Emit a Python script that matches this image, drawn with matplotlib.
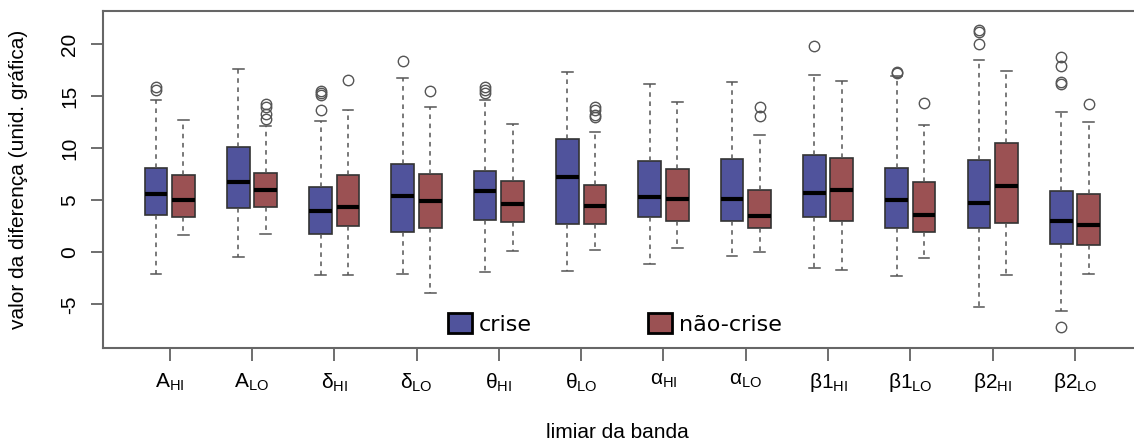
import matplotlib
matplotlib.use("Agg")
import matplotlib.pyplot as plt
from matplotlib.patches import Patch

labels = [r"$\mathregular{A_{HI}}$", r"$\mathregular{A_{LO}}$",
          r"$\mathregular{\delta_{HI}}$", r"$\mathregular{\delta_{LO}}$",
          r"$\mathregular{\theta_{HI}}$", r"$\mathregular{\theta_{LO}}$",
          r"$\mathregular{\alpha_{HI}}$", r"$\mathregular{\alpha_{LO}}$",
          r"$\mathregular{\beta1_{HI}}$", r"$\mathregular{\beta1_{LO}}$",
          r"$\mathregular{\beta2_{HI}}$", r"$\mathregular{\beta2_{LO}}$"]

# crise (blue)
crise_lo = [-2.1, -0.45, -2.2, -2.1, -1.9, -1.8, -1.1, -0.4, -1.5, -2.3, -5.3, -5.6]
crise_q1 = [3.6, 4.3, 1.8, 2.0, 3.1, 2.7, 3.4, 3.0, 3.4, 2.3, 2.3, 0.8]
crise_med = [5.6, 6.8, 4.0, 5.4, 5.9, 7.2, 5.3, 5.1, 5.7, 5.0, 4.7, 3.0]
crise_q3 = [8.1, 10.1, 6.25, 8.5, 7.8, 10.9, 8.75, 9.0, 9.4, 8.1, 8.9, 5.9]
crise_hi = [14.65, 17.65, 12.6, 16.8, 14.65, 17.35, 16.15, 16.4, 17.05, 16.95, 18.5, 13.45]
crise_out = [[15.6, 15.9], [], [13.7, 15.1, 15.3, 15.5], [18.4],
             [15.3, 15.6, 15.85], [], [], [], [19.85], [17.2, 17.35],
             [20.0, 21.15, 21.4], [-7.2, 16.2, 16.4, 17.9, 18.8]]

# não-crise (red)
nao_lo = [1.7, 1.8, -2.2, -3.9, 0.13, 0.25, 0.4, 0.0, -1.7, -0.5, -2.15, -2.1]
nao_q1 = [3.35, 4.4, 2.55, 2.3, 2.9, 2.75, 3.05, 2.3, 3.0, 2.0, 2.8, 0.7]
nao_med = [5.0, 5.95, 4.35, 4.9, 4.6, 4.5, 5.1, 3.5, 6.0, 3.6, 6.4, 2.65]
nao_q3 = [7.45, 7.65, 7.45, 7.55, 6.9, 6.5, 8.0, 6.0, 9.1, 6.75, 10.55, 5.65]
nao_hi = [12.7, 12.1, 13.7, 13.95, 12.35, 11.6, 14.45, 11.25, 16.5, 12.25, 17.45, 12.55]
nao_out = [[], [12.85, 13.3, 13.95, 14.25], [16.6], [15.5], [],
           [13.0, 13.2, 13.7, 14.0], [], [13.1, 14.0], [], [14.4], [], [14.25]]

blue = "#50539c"
red = "#9b5153"


def stats(lo, q1, med, q3, hi, out):
    return [dict(whislo=a, q1=b, med=c, q3=d, whishi=e, fliers=f)
            for a, b, c, d, e, f in zip(lo, q1, med, q3, hi, out)]


plt.rcParams["font.family"] = ["Liberation Sans", "DejaVu Sans"]
plt.rcParams["mathtext.fontset"] = "custom"
plt.rcParams["mathtext.rm"] = "Liberation Sans"

fig = plt.figure(figsize=(11.34, 4.44), dpi=100)
ax = fig.add_axes([103 / 1134, 1 - 347.7 / 444, 1040 / 1134, 336.7 / 444])

pos = list(range(len(labels)))
common = dict(widths=0.276, patch_artist=True, manage_ticks=False,
              capwidths=0.13,
              boxprops=dict(edgecolor="#333333", linewidth=1.2),
              medianprops=dict(color="black", linewidth=3),
              whiskerprops=dict(color="#555555", linewidth=1.1, linestyle=(0, (3, 3))),
              capprops=dict(color="#555555", linewidth=1.1),
              flierprops=dict(marker="o", markerfacecolor="none",
                              markeredgecolor="#555555", markersize=7.5,
                              markeredgewidth=1.0))

b1 = ax.bxp(stats(crise_lo, crise_q1, crise_med, crise_q3, crise_hi, crise_out),
            positions=[p - 0.167 for p in pos], **common)
b2 = ax.bxp(stats(nao_lo, nao_q1, nao_med, nao_q3, nao_hi, nao_out),
            positions=[p + 0.167 for p in pos], **common)
for box in b1["boxes"]:
    box.set_facecolor(blue)
for box in b2["boxes"]:
    box.set_facecolor(red)

ax.set_xlim(-0.81, -0.81 + 1040 / 82.3)
ax.set_ylim(-9.17, 23.2)

ax.set_xticks(pos)
ax.set_xticklabels(labels, fontsize=15)
ax.set_yticks([-5, 0, 5, 10, 15, 20])
ax.set_yticklabels(["-5", "0", "5", "10", "15", "20"], fontsize=15,
                   rotation=90, va="center")
ax.tick_params(axis="x", length=9, width=1.2, color="#555555", pad=8)
ax.tick_params(axis="y", length=9, width=1.2, color="#555555", pad=8)
for s in ax.spines.values():
    s.set_color("#666666")
    s.set_linewidth(1.5)

fig.text(617 / 1134, 1 - 432 / 444, "limiar da banda", fontsize=15,
         ha="center", va="center")
fig.text(19 / 1134, 1 - 179 / 444, "valor da diferença (unid. gráfica)",
         fontsize=15, rotation=90, ha="center", va="center")

handles = [Patch(facecolor=blue, edgecolor="black", linewidth=2),
           Patch(facecolor=red, edgecolor="black", linewidth=2)]
fig.legend(handles, ["crise", "não-crise"], loc="center left",
           bbox_to_anchor=(448 / 1134, 1 - 324 / 444), ncol=2, frameon=False,
           prop=dict(family="DejaVu Sans", size=16), handlelength=1.1,
           handleheight=1.0, handletextpad=0.3, columnspacing=5.2,
           borderpad=0, borderaxespad=0)

fig.savefig("out.png", dpi=100)
